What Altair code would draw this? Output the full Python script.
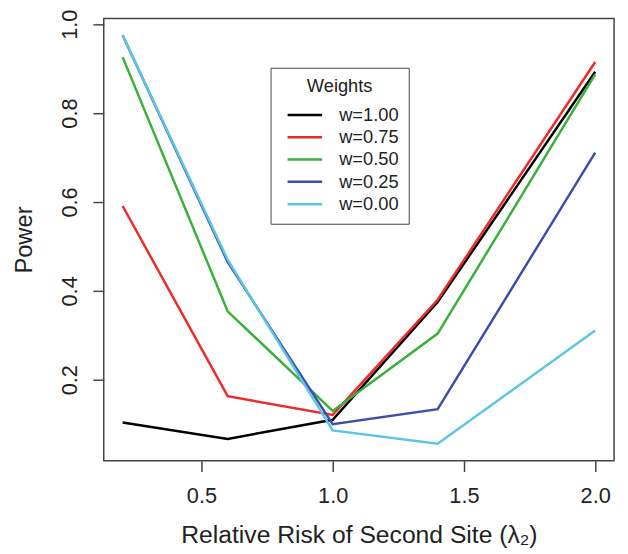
import altair as alt
import pandas as pd

x_vals = [0.2, 0.6, 1.0, 1.4, 2.0]
series_names = ["w=1.00", "w=0.75", "w=0.50", "w=0.25", "w=0.00"]
power = {
    "w=1.00": [0.104, 0.067, 0.110, 0.375, 0.893],
    "w=0.75": [0.591, 0.163, 0.121, 0.380, 0.915],
    "w=0.50": [0.926, 0.354, 0.130, 0.304, 0.887],
    "w=0.25": [0.975, 0.465, 0.100, 0.134, 0.711],
    "w=0.00": [0.975, 0.470, 0.086, 0.056, 0.311],
}
colors = ["#000000", "#EE2A2A", "#3BAF3B", "#3F4DAA", "#5CC6E2"]

rows = []
for name in series_names:
    for i, (xv, yv) in enumerate(zip(x_vals, power[name])):
        rows.append({"lam": xv, "power": yv, "w": name, "order": i})
df = pd.DataFrame(rows)

font = "Liberation Sans"

chart = alt.Chart(df).mark_line(strokeWidth=2.5, clip=True).encode(
    x=alt.X("lam:Q", scale=alt.Scale(domain=[0.128, 2.072], nice=False, zero=False),
            axis=alt.Axis(title="Relative Risk of Second Site (λ₂)", values=[0.5, 1.0, 1.5, 2.0],
                          format=".1f", grid=False, domain=False, tickSize=11, tickWidth=1.5,
                          tickColor="#444444", labelFontSize=22, labelPadding=14,
                          labelColor="#222222", titleFontSize=25, titleFontWeight="normal",
                          titleColor="#222222", titlePadding=17, labelFont=font, titleFont=font)),
    y=alt.Y("power:Q", scale=alt.Scale(domain=[0.018, 1.013], nice=False, zero=False),
            axis=alt.Axis(title="Power", values=[0.2, 0.4, 0.6, 0.8, 1.0], format=".1f",
                          grid=False, domain=False, tickSize=11, tickWidth=1.5,
                          tickColor="#444444", labelFontSize=22, labelAngle=270,
                          labelAlign="center", labelBaseline="bottom", labelPadding=12,
                          labelColor="#222222", titleFontSize=24, titleFontWeight="normal",
                          titleColor="#222222", titlePadding=22, labelFont=font, titleFont=font)),
    color=alt.Color("w:N", sort=series_names,
                    scale=alt.Scale(domain=series_names, range=colors),
                    legend=alt.Legend(title="Weights", orient="none", legendX=169, legendY=50,
                                      strokeColor="#444444", padding=10,
                                      fillColor="white", symbolType="M-1,0L6,0", symbolSize=100,
                                      symbolOffset=3,
                                      symbolStrokeWidth=2.5, labelFontSize=18.5, titleFontSize=18.5,
                                      titleFontWeight="normal", titleColor="#222222",
                                      labelColor="#222222", labelFont=font, titleFont=font,
                                      labelOffset=38, rowPadding=3.6, titleAnchor="middle",
                                      titlePadding=10)),
    order="order:Q",
).properties(
    width=517, height=448,
    autosize=alt.AutoSizeParams(type="none"),
    padding={"left": 97, "top": 7, "right": 6, "bottom": 91},
).configure_view(stroke="#444444", strokeWidth=1.5)

chart.save("out.html", embed_options={"renderer": "svg", "actions": False})
